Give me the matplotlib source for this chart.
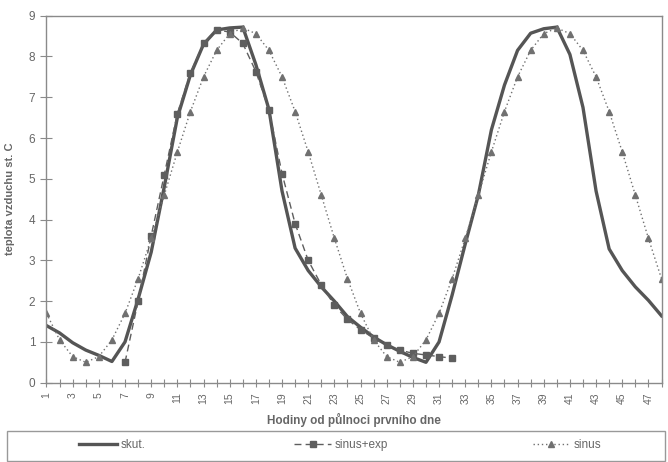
import matplotlib
matplotlib.use("Agg")
import matplotlib.pyplot as plt
from matplotlib.patches import Rectangle

plt.rcParams['font.family'] = ['Liberation Sans', 'DejaVu Sans']

hours = list(range(1, 49))

skut = [1.40, 1.22, 0.98, 0.80, 0.67, 0.52, 1.00, 2.05, 3.20, 4.80,
        6.50, 7.55, 8.30, 8.65, 8.70, 8.72, 7.80, 6.70, 4.70, 3.30,
        2.75, 2.35, 2.00, 1.62, 1.36, 1.12, 0.93, 0.77, 0.62, 0.50,
        1.00, 2.15, 3.40, 4.60, 6.20, 7.30, 8.15, 8.57, 8.68, 8.72,
        8.05, 6.75, 4.70, 3.28, 2.75, 2.35, 2.02, 1.64]

sin_exp_hours = list(range(7, 33))
sin_exp = [0.50, 2.00, 3.60, 5.10, 6.60, 7.60, 8.32, 8.65, 8.60, 8.32,
           7.63, 6.69, 5.13, 3.90, 3.00, 2.40, 1.90, 1.55, 1.30, 1.09,
           0.92, 0.80, 0.72, 0.68, 0.64, 0.60]

sinus = [1.70, 1.05, 0.64, 0.50, 0.64, 1.05, 1.70, 2.55, 3.54, 4.60,
         5.66, 6.65, 7.50, 8.15, 8.56, 8.70, 8.56, 8.15, 7.50, 6.65,
         5.66, 4.60, 3.54, 2.55, 1.70, 1.05, 0.64, 0.50, 0.64, 1.05,
         1.70, 2.55, 3.54, 4.60, 5.66, 6.65, 7.50, 8.15, 8.56, 8.70,
         8.56, 8.15, 7.50, 6.65, 5.66, 4.60, 3.54, 2.55]

line_col = '#555555'
axis_col = '#8a8a8a'
text_col = '#666666'

fig = plt.figure(figsize=(6.68, 4.62), dpi=100)
ax = fig.add_axes([46.5 / 668, 1 - 382.7 / 462, 615 / 668, 367 / 462])

l1, = ax.plot(hours, skut, color=line_col, lw=2.4, label='skut.')
l2, = ax.plot(sin_exp_hours, sin_exp, color='#5e5e5e', lw=1.0, ls=(0, (5, 3)),
              marker='s', ms=4.5, label='sinus+exp')
l3, = ax.plot(hours, sinus, color='#707070', lw=1.0, ls=(0, (1, 2)),
              marker='^', ms=4.5, label='sinus')

ax.set_xlim(1, 48)
ax.set_ylim(0, 9)
ax.set_xticks(hours)
ax.set_xticklabels([str(h) if h % 2 == 1 else '' for h in hours], rotation=90)
ax.set_yticks(range(0, 10))
ax.tick_params(axis='x', direction='inout', length=6, width=0.8, color=axis_col,
               labelsize=7.5, labelcolor=text_col, pad=4)
ax.tick_params(axis='y', direction='inout', length=8, width=0.8, color=axis_col,
               labelsize=8.5, labelcolor=text_col, pad=4)
for s in ax.spines.values():
    s.set_color(axis_col)
    s.set_linewidth(1.0)

ax.set_xlabel('Hodiny od půlnoci prvního dne', fontsize=8.5, fontweight='bold',
              color=text_col, labelpad=6)
ax.set_ylabel('teplota vzduchu st. C', fontsize=8, fontweight='bold',
              color=text_col, labelpad=10)

# legend frame across the bottom
fig.patches.append(Rectangle((7 / 668, 0.002), 658 / 668, 30 / 462,
                             transform=fig.transFigure, fill=False,
                             edgecolor='#999999', lw=1.0))
for handle, xc in [(l1, 112 / 668), (l2, 341 / 668), (l3, 567 / 668)]:
    fig.legend(handles=[handle], loc='center', bbox_to_anchor=(xc, 17 / 462),
               frameon=False, fontsize=8.5, handlelength=3.2, handletextpad=0.3,
               labelcolor=text_col)

fig.savefig('out.png', dpi=100, facecolor='white')
